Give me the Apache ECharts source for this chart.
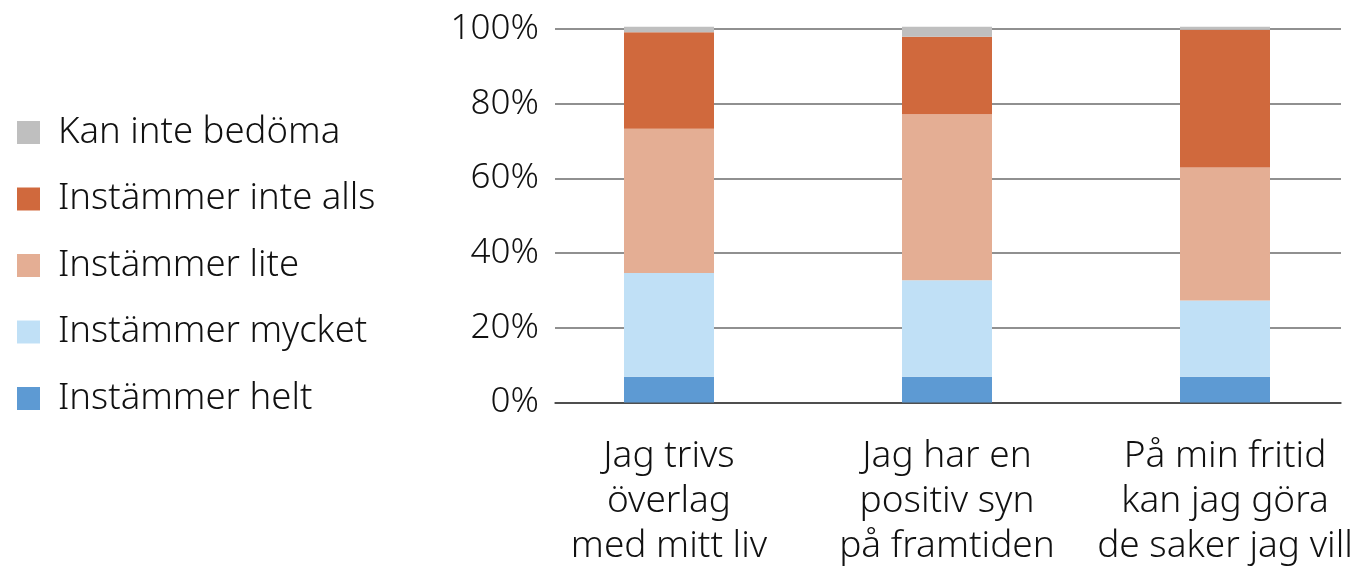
<!DOCTYPE html>
<html>
<head>
<meta charset="utf-8">
<script src="https://cdn.jsdelivr.net/npm/echarts@6/dist/echarts.min.js"></script>
<style>
html,body{margin:0;padding:0;background:#fff;}
#chart{width:1351px;height:566px;}
</style>
</head>
<body>
<div id="chart"></div>
<script>
const categories = ['Jag trivs\növerlag\nmed mitt liv', 'Jag har en\npositiv syn\npå framtiden', 'På min fritid\nkan jag göra\nde saker jag vill'];
const seriesNames = ['Instämmer helt', 'Instämmer mycket', 'Instämmer lite', 'Instämmer inte alls', 'Kan inte bedöma'];
const helt = [6.9, 6.9, 6.9];
const mycket = [27.8, 25.8, 20.4];
const lite = [38.6, 44.5, 35.6];
const inteAlls = [25.8, 20.7, 36.9];
const kanInte = [1.5, 2.7, 0.8];
const yTicks = [0, 20, 40, 60, 80, 100];
const colors = ['#5D9AD3', '#C0E0F6', '#E4AE94', '#D0693D', '#BFBFBF'];

const values = [helt, mycket, lite, inteAlls, kanInte];
const FONT = '"Noto Sans", "Open Sans", sans-serif';
const chart = echarts.init(document.getElementById('chart'));
chart.setOption({
  animation: false,
  color: colors,
  legend: {
    orient: 'vertical',
    left: 17,
    top: 114,
    padding: 0,
    itemWidth: 23,
    itemHeight: 23,
    itemGap: 29.5,
    data: seriesNames.slice().reverse(),
    icon: 'rect',
    textStyle: { fontFamily: FONT, fontSize: 36.5, lineHeight: 35, color: '#111', padding: [0, 0, 0, 13], fontWeight: 300 }
  },
  grid: [
    { left: 530, width: 834, top: 29, bottom: 163.5, outerBoundsMode: 'none', containLabel: false },
    { left: 555, width: 786, top: 29, bottom: 163.5, outerBoundsMode: 'none', containLabel: false }
  ],
  xAxis: [
    {
      type: 'category', gridIndex: 0, data: categories,
      axisLine: { show: false }, axisTick: { show: false },
      axisLabel: { fontFamily: FONT, fontSize: 37, lineHeight: 45, color: '#111', margin: 31, interval: 0, fontWeight: 300 }
    },
    {
      type: 'category', gridIndex: 1, data: categories,
      axisLine: { show: true, lineStyle: { color: '#3a3a3a', width: 1.5 } },
      axisTick: { show: false }, axisLabel: { show: false }
    }
  ],
  yAxis: [
    { type: 'value', gridIndex: 0, min: 0, max: 100, interval: 20, show: false },
    {
      type: 'value', gridIndex: 1, min: 0, max: 100, interval: 20,
      axisLine: { show: false }, axisTick: { show: false },
      splitLine: { lineStyle: { color: '#6b6b6b', width: 1.5 } },
      axisLabel: { fontFamily: FONT, fontSize: 35, color: '#111', margin: 16, fontWeight: 300,
        formatter: v => (yTicks.indexOf(v) >= 0 ? v + '%' : '') }
    }
  ],
  series: seriesNames.map((n, i) => ({
    name: n, type: 'bar', stack: 'total', xAxisIndex: 0, yAxisIndex: 0,
    barWidth: 90, clip: false, data: values[i], itemStyle: { color: colors[i] }
  }))
});
</script>
</body>
</html>
